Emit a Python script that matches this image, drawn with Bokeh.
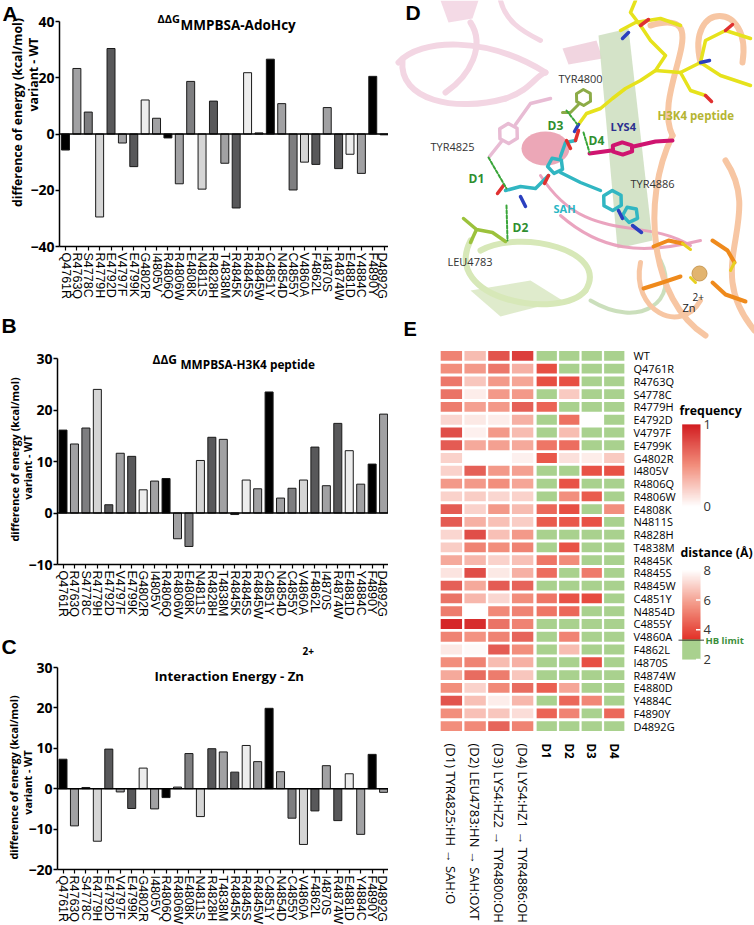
import math
import numpy as np
from bokeh.plotting import figure
from bokeh.models import (Range1d, FactorRange, FixedTicker, Label,
                          ColumnDataSource, LinearColorMapper)
from bokeh.layouts import row, column
from bokeh.embed import file_html
from bokeh.resources import INLINE
from bokeh.core.properties import value

# ---------------- data ----------------
mutants = ["Q4761R", "R4763Q", "S4778C", "R4779H", "E4792D", "V4797F", "E4799K",
           "G4802R", "I4805V", "R4806Q", "R4806W", "E4808K", "N4811S", "R4828H",
           "T4838M", "R4845K", "R4845S", "R4845W", "C4851Y", "N4854D", "C4855Y",
           "V4860A", "F4862L", "I4870S", "R4874W", "E4881D", "Y4884C", "F4890Y", "D4892G"]

dg_adohcy = [-5.7, 23.3, 7.8, -29.5, 30.4, -3.2, -11.6, 12.1, 5.6, -1.4, -17.7, 18.7,
             -19.6, 11.7, -10.4, -26.3, 21.8, 0.4, 26.6, 10.8, -19.9, -10.0, -10.8,
             9.4, -12.3, -7.2, -14.0, 20.5, -0.3]

dg_h3k4 = [16.1, 13.4, 16.5, 24.0, 1.6, 11.6, 11.0, 4.5, 6.2, 6.7, -5.0, -6.5, 10.2,
           14.7, 14.3, -0.3, 6.4, 4.7, 23.5, 2.9, 4.8, 6.4, 12.8, 5.3, 17.4, 12.1,
           5.6, 9.5, 19.2]

zn_energy = [7.3, -9.2, 0.3, -13.0, 9.8, -0.8, -4.9, 5.1, -5.0, -2.2, 0.4, 8.7, -6.9,
             9.9, 9.1, 4.1, 10.7, 6.7, 19.9, 4.2, -7.3, -13.8, -5.5, 5.7, -7.9, 3.7,
             -11.3, 8.5, -0.9]

ticks_a = [-40, -20, 0, 20, 40]
ticks_b = [-10, 0, 10, 20, 30]
ticks_c = [-20, -10, 0, 10, 20, 30]

heat_rows = ["WT", "Q4761R", "R4763Q", "S4778C", "R4779H", "E4792D", "V4797F", "E4799K",
             "G4802R", "I4805V", "R4806Q", "R4806W", "E4808K", "N4811S", "R4828H",
             "T4838M", "R4845K", "R4845S", "R4845W", "C4851Y", "N4854D", "C4855Y",
             "V4860A", "F4862L", "I4870S", "R4874W", "E4880D", "Y4884C", "F4890Y", "D4892G"]

freq_d1 = [0.55, 0.50, 0.60, 0.62, 0.58, 0.18, 0.78, 0.72, 0.20, 0.20, 0.45, 0.20, 0.72, 0.72, 0.18,
           0.22, 0.38, 0.12, 0.70, 0.62, 0.58, 0.95, 0.55, 0.10, 0.50, 0.38, 0.50, 0.75, 0.50, 0.50]
freq_d2 = [0.30, 0.45, 0.25, 0.08, 0.42, 0.10, 0.07, 0.38, 0.00, 0.70, 0.45, 0.22, 0.20, 0.35, 0.78,
           0.55, 0.32, 0.78, 0.38, 0.32, 0.00, 0.92, 0.48, 0.03, 0.55, 0.65, 0.20, 0.28, 0.28, 0.52]
freq_d3 = [0.75, 0.60, 0.45, 0.45, 0.45, 0.08, 0.45, 0.42, 0.00, 0.45, 0.50, 0.18, 0.45, 0.28, 0.28,
           0.50, 0.20, 0.10, 0.72, 0.18, 0.52, 0.62, 0.55, 0.72, 0.30, 0.58, 0.52, 0.08, 0.25, 0.68]
freq_d4 = [0.85, 0.35, 0.40, 0.45, 0.70, 0.35, 0.30, 0.38, 0.07, 0.42, 0.40, 0.20, 0.30, 0.22, 0.45,
           0.55, 0.28, 0.35, 0.68, 0.50, 0.55, 0.55, 0.68, 0.50, 0.35, 0.25, 0.65, 0.32, 0.15, 0.55]

dist_d1 = [2.5, 4.0, 4.0, 2.5, 4.5, 2.5, 2.5, 4.9, 4.2, 2.5, 2.5, 2.5, 4.6, 4.3, 2.5,
           2.5, 4.9, 4.7, 2.5, 4.9, 4.9, 2.5, 2.5, 2.5, 2.5, 2.5, 4.4, 2.5, 4.5, 2.5]
dist_d2 = [2.5, 2.5, 4.0, 6.8, 2.5, 4.8, 6.5, 4.7, 7.3, 2.5, 4.1, 5.5, 4.0, 4.2, 2.5,
           4.1, 5.4, 2.5, 2.5, 4.1, 4.6, 2.5, 5.2, 6.5, 2.5, 2.5, 6.0, 4.6, 5.2, 2.5]
dist_d3 = [2.5, 2.5, 2.5, 2.5, 2.5, 8.0, 2.5, 2.5, 7.6, 4.1, 2.5, 4.3, 2.5, 4.1, 2.5,
           2.5, 2.5, 5.0, 2.5, 3.9, 2.5, 2.5, 2.5, 2.5, 4.0, 2.5, 2.5, 5.3, 2.5, 2.5]
dist_d4 = [2.5, 2.5, 2.5, 2.5, 2.5, 2.5, 2.5, 2.5, 6.8, 4.1, 2.5, 2.5, 5.5, 2.5, 2.5,
           2.5, 2.5, 2.5, 2.5, 2.5, 2.5, 2.5, 2.5, 2.5, 2.5, 2.5, 2.5, 2.5, 4.6, 2.5]

freq_labels = ["(D1) TYR4825:HH \u2192 SAH:O", "(D2) LEU4783:HN \u2192 SAH:OXT",
               "(D3) LYS4:HZ2 \u2192 TYR4800:OH", "(D4) LYS4:HZ1 \u2192 TYR4886:OH"]
dist_labels = ["D1", "D2", "D3", "D4"]
freq_ticks = [0, 1]
dist_ticks = [2, 4, 6, 8]
HB_LIMIT = 3.3

# ---------------- styles ----------------
BLACK, MED, GRAY, LIGHT, DARK, VLIGHT = "#000000", "#a1a1a3", "#7e7e80", "#d5d5d5", "#58585a", "#ededed"
shade_cycle = [BLACK, MED, GRAY, LIGHT, DARK, MED, DARK, VLIGHT, MED]
bar_colors = [shade_cycle[i % len(shade_cycle)] for i in range(len(mutants))]
BOLD_FONT = "Open Sans"
LEFT_W = 388


class BarPanel:
    """Bar chart whose frame fills the whole figure; axes are pinned with fixed_location."""

    def __init__(self, values, fig_top, fig_bottom, tick0, pitch, axis_px,
                 ytop_px, ytop_val, ybot_px, ybot_val, yticks, ytick_size):
        self.tick0, self.pitch = tick0, pitch
        self.ytop_px, self.ytop_val = ytop_px, ytop_val
        self.ppu = (ybot_px - ytop_px) / (ytop_val - ybot_val)
        p = figure(width=LEFT_W, height=fig_bottom - fig_top,
                   x_range=Range1d(self.vx(0), self.vx(LEFT_W)),
                   y_range=Range1d(self.vy(fig_bottom), self.vy(fig_top)),
                   min_border=0, min_border_left=0, min_border_right=0,
                   min_border_top=0, min_border_bottom=0,
                   toolbar_location=None, output_backend="svg")
        self.p = p
        ax_x = self.vx(axis_px)
        src = ColumnDataSource(dict(x=list(range(len(mutants))), top=values, color=bar_colors))
        p.vbar(x="x", top="top", bottom=0, width=0.7, fill_color="color",
               line_color="#1a1a1a", line_width=1, source=src)
        p.segment(x0=[ax_x], y0=[0], x1=[self.vx(LEFT_W)], y1=[0], line_color="black", line_width=1.5)
        p.xgrid.visible = False
        p.ygrid.visible = False
        p.outline_line_color = None
        xa = p.xaxis[0]
        xa.fixed_location = ybot_val
        xa.bounds = (ax_x, self.vx(LEFT_W))
        xa.ticker = FixedTicker(ticks=list(range(len(mutants))))
        xa.major_label_overrides = {i: m for i, m in enumerate(mutants)}
        xa.major_label_orientation = "vertical"
        xa.major_label_text_font = "Liberation Sans"
        xa.major_label_text_font_size = "12.5px"
        xa.major_label_text_color = "black"
        xa.major_label_standoff = 2
        xa.major_tick_out = 4
        xa.major_tick_in = 0
        xa.minor_tick_line_color = None
        xa.axis_line_width = 1.5
        xa.major_tick_line_width = 1.2
        ya = p.yaxis[0]
        ya.fixed_location = ax_x
        ya.bounds = (ybot_val, ytop_val)
        ya.ticker = FixedTicker(ticks=yticks)
        ya.major_label_text_font = BOLD_FONT
        ya.major_label_text_font_style = "bold"
        ya.major_label_text_font_size = ytick_size
        ya.major_label_text_color = "black"
        ya.major_label_standoff = 1
        ya.major_tick_out = 4
        ya.major_tick_in = 0
        ya.minor_tick_line_color = None
        ya.axis_line_width = 1.5
        ya.major_tick_line_width = 1.5

    def vx(self, px):
        return (px - self.tick0) / self.pitch

    def vy(self, py):
        return self.ytop_val - (py - self.ytop_px) / self.ppu

    def label(self, px, py, text, size, angle=0.0, align="left", font=BOLD_FONT):
        self.p.add_layout(Label(x=self.vx(px), y=self.vy(py), text=text, angle=angle,
                                text_align=align, text_baseline="middle", text_font=font,
                                text_font_size=size, text_color="black",
                                text_font_style="bold"))


# ---- Panel A ----
A = BarPanel(dg_adohcy, 0, 300, 65, 11.38, 59, 21, 40, 246, -40, ticks_a, "14px")
A.label(2, 12.5, "A", "21px", font="Liberation Sans")
A.label(157, 18, "\u0394\u0394G", "11px")
A.label(180, 24.5, "MMPBSA-AdoHcy", "13.5px")
A.label(17, 112, "difference of energy (kcal/mol)", "12.3px", angle=math.pi / 2, align="center")
A.label(32.5, 74, "variant - WT", "12.3px", angle=math.pi / 2, align="center")

# ---- Panel B ----
B = BarPanel(dg_h3k4, 300, 620, 62.5, 11.45, 57, 358, 30, 564, -10, ticks_b, "14px")
B.label(1, 325, "B", "21px", font="Liberation Sans")
B.label(152, 359, "\u0394\u0394G", "12px")
B.label(180, 363.5, "MMPBSA-H3K4 peptide", "11.8px")
B.label(14, 459, "difference of energy (kcal/mol)", "10.7px", angle=math.pi / 2, align="center")
B.label(27, 467, "variant - WT", "10.7px", angle=math.pi / 2, align="center")

# ---- Panel C ----
C = BarPanel(zn_energy, 620, 925, 62.5, 11.45, 57, 667, 30, 869, -20, ticks_c, "14px")
C.label(1, 646, "C", "21px", font="Liberation Sans")
C.label(154, 675, "Interaction Energy - Zn", "13.2px")
C.label(302, 650, "2+", "10px")
C.label(13, 777, "difference of energy (kcal/mol)", "10.7px", angle=math.pi / 2, align="center")
C.label(27, 782, "variant - WT", "10.7px", angle=math.pi / 2, align="center")

# ---------------- Panel D (schematic of the binding site) ----------------
pD = figure(width=366, height=340, x_range=Range1d(388, 754), y_range=Range1d(0, 340),
            x_axis_location=None, y_axis_location=None, toolbar_location=None,
            min_border=0, output_backend="svg")
pD.xgrid.visible = False
pD.ygrid.visible = False
pD.outline_line_color = None


def dy(py):
    return 340 - py


def curve(p, color, w, alpha, p0, c0, c1, p1):
    p.bezier(x0=[p0[0]], y0=[dy(p0[1])], x1=[p1[0]], y1=[dy(p1[1])],
             cx0=[c0[0]], cy0=[dy(c0[1])], cx1=[c1[0]], cy1=[dy(c1[1])],
             line_color=color, line_width=w, line_alpha=alpha, line_cap="round")


def poly(p, color, pts, alpha=1.0):
    p.patch([q[0] for q in pts], [dy(q[1]) for q in pts], fill_color=color,
            line_color=None, fill_alpha=alpha)


def stick(p, color, w, pts, dash="solid"):
    p.line([q[0] for q in pts], [dy(q[1]) for q in pts], line_color=color,
           line_width=w, line_cap="round", line_join="round", line_dash=dash)


def ring(p, color, w, cx, cy, r, n=6, sy=1.0):
    pts = [(cx + r * math.cos(2 * math.pi * k / n + 0.5), cy + sy * r * math.sin(2 * math.pi * k / n + 0.5))
           for k in range(n + 1)]
    stick(p, color, w, pts)


sheet_list = [
    ("#f3d6e3", [(440, 0), (478, 0), (472, 18), (448, 22)]),
    ("#f0d0dd", [(562, 48), (596, 40), (602, 58), (568, 64)]),
    ("#cfe0c2", [(598, 35), (628, 28), (652, 240), (617, 248)]),
    ("#dbe9c6", [(470, 290), (530, 280), (562, 300), (500, 316)]),
]
for col, pts in sheet_list:
    poly(pD, col, pts, 0.9)

ribbon_list = [
    ("#f3d6e3", 6, 1, (398, 62), (420, 38), (485, 35), (545, 72)),
    ("#f3d6e3", 6, 1, (402, 60), (398, 100), (455, 112), (505, 98)),
    ("#f3d6e3", 6, 1, (505, 98), (530, 90), (535, 75), (545, 72)),
    ("#f3d6e3", 6, 1, (470, 22), (485, 45), (470, 75), (445, 92)),
    ("#f3d6e3", 5, 1, (500, 0), (505, 20), (520, 30), (540, 40)),
    ("#e89ab8", 3, 0.9, (540, 175), (585, 245), (640, 215), (690, 245)),
    ("#e89ab8", 3, 0.9, (560, 215), (600, 250), (640, 255), (700, 240)),
    ("#d7e8b8", 6, 1, (470, 240), (440, 300), (560, 320), (585, 290)),
    ("#d7e8b8", 6, 1, (585, 290), (610, 250), (520, 228), (480, 250)),
    ("#c5dcb5", 4, 0.9, (590, 300), (640, 330), (680, 300), (660, 260)),
    ("#f7c6a3", 6, 1, (650, 25), (720, 5), (650, 90), (672, 135)),
    ("#f7c6a3", 6, 1, (672, 135), (640, 200), (650, 300), (705, 335)),
    ("#f7c6a3", 6, 1, (725, 160), (765, 220), (700, 265), (754, 330)),
    ("#f7c6a3", 6, 1, (700, 62), (685, 0), (752, 0), (742, 62)),
    ("#f7c6a3", 5, 1, (640, 262), (630, 310), (680, 335), (700, 300)),
]
for r in ribbon_list:
    curve(pD, *r)

pD.ellipse(x=[545], y=[dy(148)], width=48, height=34, fill_color="#e6899f",
           fill_alpha=0.75, line_color=None)

YEL, BLU, RED = "#e6e21c", "#2b3fbf", "#e03030"
for pts in [[(578, 124), (586, 113), (600, 108), (612, 98), (625, 88), (640, 80), (655, 70)],
            [(655, 70), (665, 55), (650, 40), (640, 25), (630, 12), (635, 0)],
            [(655, 70), (680, 72), (700, 62), (720, 75), (750, 85)],
            [(680, 72), (690, 90), (705, 95)],
            [(700, 62), (705, 40), (725, 30), (750, 38)],
            [(620, 30), (635, 22), (660, 18), (680, 25)]]:
    stick(pD, YEL, 3.5, pts)
for pts in [[(578, 124), (574, 131)], [(628, 32), (622, 38)], [(700, 62), (709, 60)]]:
    stick(pD, BLU, 3.5, pts)
for pts in [[(640, 25), (648, 19)], [(725, 30), (732, 24)], [(705, 95), (711, 101)]]:
    stick(pD, RED, 3.5, pts)

ring(pD, "#8cab47", 3, 583, 97, 8)
stick(pD, "#8cab47", 3, [(578, 104), (570, 112), (562, 112)])
ring(pD, "#e8bcd4", 3.5, 508, 133, 10)
stick(pD, "#e8bcd4", 3.5, [(501, 141), (489, 156)])
stick(pD, "#e8bcd4", 3.5, [(515, 124), (530, 103), (550, 98)])

CY = "#31b6c2"
stick(pD, CY, 3.5, [(505, 190), (520, 186), (535, 188), (548, 175)])
ring(pD, CY, 3.5, 555, 165, 8, n=5)
stick(pD, CY, 3.5, [(560, 156), (565, 142), (575, 140)])
stick(pD, CY, 3.5, [(560, 172), (580, 182), (600, 190)])
ring(pD, CY, 3.5, 612, 200, 10)
ring(pD, CY, 3.5, 630, 214, 8, n=5)
for pts in [[(503, 185), (497, 193)], [(566, 140), (570, 148)], [(575, 140), (578, 130)], [(548, 175), (544, 183)]]:
    stick(pD, RED, 3.5, pts)
for pts in [[(520, 196), (525, 206)], [(632, 225), (641, 232)], [(618, 210), (622, 218)]]:
    stick(pD, BLU, 3.5, pts)

ring(pD, "#cf1470", 4, 622, 148, 11, sy=0.55)
stick(pD, "#cf1470", 4, [(589, 153), (611, 150)])
stick(pD, "#cf1470", 4, [(633, 146), (655, 141), (672, 140)])

stick(pD, "#9cc23c", 3.5, [(463, 218), (476, 229), (492, 232), (505, 241)])
stick(pD, "#9cc23c", 3.5, [(476, 229), (470, 242)])

for pts in [[(653, 246), (668, 240), (682, 243)], [(712, 240), (727, 250), (734, 262)],
            [(643, 288), (662, 282), (680, 276)], [(712, 282), (725, 294), (745, 301)]]:
    stick(pD, "#ef8a1c", 4, pts)
for pts in [[(682, 243), (690, 249)], [(734, 262), (730, 270)], [(690, 277), (695, 282)]]:
    stick(pD, "#e8d020", 3, pts)
pD.scatter(x=[699], y=[dy(273)], size=15, fill_color="#e2b46f", line_color="#c99a55")

GREEN = "#3aa53a"
for pts in [[(488, 157), (506, 188)], [(506, 205), (507, 240)],
            [(566, 110), (577, 124)], [(583, 132), (589, 152)]]:
    stick(pD, GREEN, 2, pts, dash="3 2")

d_texts = [
    ("D", 405, 12, "21px", "bold", "black", "Liberation Sans"),
    ("TYR4800", 558, 77.5, "11px", "normal", "#333333", "Open Sans"),
    ("H3K4 peptide", 657, 115, "11.5px", "bold", "#b5b532", "Open Sans"),
    ("D3", 547, 125, "12px", "bold", "#2f8f2f", "Open Sans"),
    ("LYS4", 610, 126, "11px", "bold", "#2c2f8f", "Open Sans"),
    ("D4", 588, 140, "12px", "bold", "#2f8f2f", "Open Sans"),
    ("TYR4825", 430, 146, "11px", "normal", "#333333", "Open Sans"),
    ("D1", 468, 178, "12px", "bold", "#2f8f2f", "Open Sans"),
    ("SAH", 553, 208, "11px", "bold", "#2ab6c4", "Open Sans"),
    ("D2", 512, 227, "12px", "bold", "#2f8f2f", "Open Sans"),
    ("TYR4886", 630, 182.5, "11px", "normal", "#333333", "Open Sans"),
    ("LEU4783", 447, 261, "11px", "normal", "#333333", "Open Sans"),
    ("2+", 692, 296, "10px", "normal", "#222222", "Open Sans"),
    ("Zn", 682, 307, "11px", "normal", "#222222", "Open Sans"),
    ("E", 403, 328, "20px", "bold", "black", "Liberation Sans"),
]
for t, x, y, sz, st, colr, fnt in d_texts:
    pD.text(x=[x], y=[dy(y)], text=[t], text_font=value(fnt), text_font_size=sz,
            text_font_style=st, text_color=colr, text_align="left", text_baseline="middle")

# ---------------- Panel E (heatmaps) ----------------
def mix(c1, c2, t):
    return tuple(a + (b - a) * t for a, b in zip(c1, c2))


def hexc(c):
    return "#%02x%02x%02x" % tuple(int(round(v)) for v in c)


def ramp(stops, t):
    for (p0, c0), (p1, c1) in zip(stops[:-1], stops[1:]):
        if t <= p1:
            return hexc(mix(c0, c1, (t - p0) / (p1 - p0)))
    return hexc(stops[-1][1])


WHITE = (255, 255, 255)
freq_stops = [(0.0, WHITE), (0.5, (242, 142, 124)), (1.0, (210, 28, 32))]
dist_stops = [(0.0, (226, 48, 38)), (0.5, (243, 150, 132)), (1.0, WHITE)]
HB_GREEN = "#a9d18e"
freq_palette = [ramp(freq_stops, i / 255) for i in range(256)]
dist_palette = []
for i in range(240):
    v = 2 + (i + 0.5) * 6 / 240
    if v < HB_LIMIT:
        dist_palette.append(HB_GREEN)
    else:
        dist_palette.append(ramp(dist_stops, (v - HB_LIMIT) / (8 - HB_LIMIT)))
freq_mapper = LinearColorMapper(palette=freq_palette, low=0, high=1)
dist_mapper = LinearColorMapper(palette=dist_palette, low=2, high=8)

freq_cols = [freq_d1, freq_d2, freq_d3, freq_d4]
dist_cols = [dist_d1, dist_d2, dist_d3, dist_d4]


def long_form(cols):
    xs, ys, vs = [], [], []
    for c, colvals in enumerate(cols):
        for r, name in enumerate(heat_rows):
            xs.append(c)
            ys.append(name)
            vs.append(colvals[r])
    return ColumnDataSource(dict(x=xs, y=ys, v=vs))


E_H = 585
E_TOP, E_BOTTOM = 9, 177          # borders: frame spans page y 349..748


def heat_panel(width, left, right, cols, mapper, labels, yloc, label_style, label_size):
    p = figure(width=width, height=E_H, x_range=Range1d(-0.5, 3.5),
               y_range=FactorRange(factors=list(reversed(heat_rows))),
               min_border_left=left, min_border_right=right, min_border_top=E_TOP,
               min_border_bottom=E_BOTTOM, y_axis_location=yloc,
               toolbar_location=None, output_backend="svg")
    p.rect(x="x", y="y", width=0.9, height=0.77, source=long_form(cols),
           fill_color={"field": "v", "transform": mapper}, line_color=None)
    p.xgrid.visible = False
    p.ygrid.visible = False
    p.outline_line_color = None
    xa = p.xaxis[0]
    xa.ticker = FixedTicker(ticks=[0, 1, 2, 3])
    xa.major_label_overrides = {i: s for i, s in enumerate(labels)}
    xa.major_label_orientation = "vertical"
    xa.major_label_text_font = "Open Sans"
    xa.major_label_text_font_size = label_size
    xa.major_label_text_font_style = label_style
    xa.major_label_text_color = "black"
    xa.major_label_standoff = 5
    xa.axis_line_color = None
    xa.major_tick_line_color = None
    xa.minor_tick_line_color = None
    if yloc is not None:
        ya = p.yaxis[0]
        ya.major_label_text_font = "Open Sans"
        ya.major_label_text_font_size = "11px"
        ya.major_label_text_color = "black"
        ya.major_label_standoff = 2
        ya.axis_line_color = None
        ya.major_tick_line_color = None
        ya.minor_tick_line_color = None
    return p


pF = heat_panel(146, 51, 0, freq_cols, freq_mapper, freq_labels, None, "normal", "13px")
pDist = heat_panel(144, 1, 48, dist_cols, dist_mapper, dist_labels, "right", "bold", "11.5px")

# legend panel: same frame as the heatmaps (page x 678..754, page y 349..748)
LEG_TOP, LEG_BOT = 340 + E_TOP, 925 - E_BOTTOM
pL = figure(width=76, height=E_H, x_range=Range1d(678, 754), y_range=Range1d(0, LEG_BOT - LEG_TOP),
            x_axis_location=None, y_axis_location=None, toolbar_location=None,
            min_border_left=0, min_border_right=0, min_border_top=E_TOP,
            min_border_bottom=E_BOTTOM, output_backend="svg")
pL.xgrid.visible = False
pL.ygrid.visible = False
pL.outline_line_color = None


def ly(py):
    return LEG_BOT - py


def freq_py(v):
    return 513 - v * 86


def dist_py(v):
    return 672 - (v - 2) * 15.5


N = 200
pL.image(image=[np.linspace(0, 1, N).reshape(N, 1)], x=681.7, y=ly(freq_py(0)), dw=18.3,
         dh=86, color_mapper=freq_mapper)
pL.image(image=[np.linspace(2, 8, N).reshape(N, 1)], x=681.7, y=ly(dist_py(2)), dw=18.3,
         dh=93, color_mapper=dist_mapper)

for v in dist_ticks[:-1]:
    pL.line([695.5, 700], [ly(dist_py(v)), ly(dist_py(v))], line_color="white", line_width=1.5)

txt = dict(text_align="left", text_baseline="middle")
pL.text(x=[679], y=[ly(413)], text=["frequency"], text_font=value(BOLD_FONT),
        text_font_style="bold", text_font_size="12.3px", **txt)
pL.text(x=[680], y=[ly(561)], text=["distance (\u00c5)"], text_font=value(BOLD_FONT),
        text_font_style="bold", text_font_size="12.3px", **txt)
pL.text(x=[703] * len(freq_ticks), y=[ly(freq_py(v)) for v in freq_ticks],
        text=[str(v) for v in freq_ticks], text_font=value("Open Sans"),
        text_font_size="13px", text_color="#333333", **txt)
pL.text(x=[703] * len(dist_ticks), y=[ly(dist_py(v)) for v in dist_ticks],
        text=[str(v) for v in dist_ticks], text_font=value("Open Sans"),
        text_font_size="13px", text_color="#333333", **txt)
pL.line([678, 704], [ly(dist_py(HB_LIMIT)), ly(dist_py(HB_LIMIT))], line_color="black",
        line_width=1.5, line_dash="1 1")
pL.text(x=[705], y=[ly(dist_py(HB_LIMIT))], text=["HB limit"], text_font=value(BOLD_FONT),
        text_font_style="bold", text_font_size="9.5px", text_color="#3b8f3b", **txt)

layout = row(column(A.p, B.p, C.p), column(pD, row(pF, pDist, pL)))

open("out.html", "w").write(file_html(layout, INLINE))
